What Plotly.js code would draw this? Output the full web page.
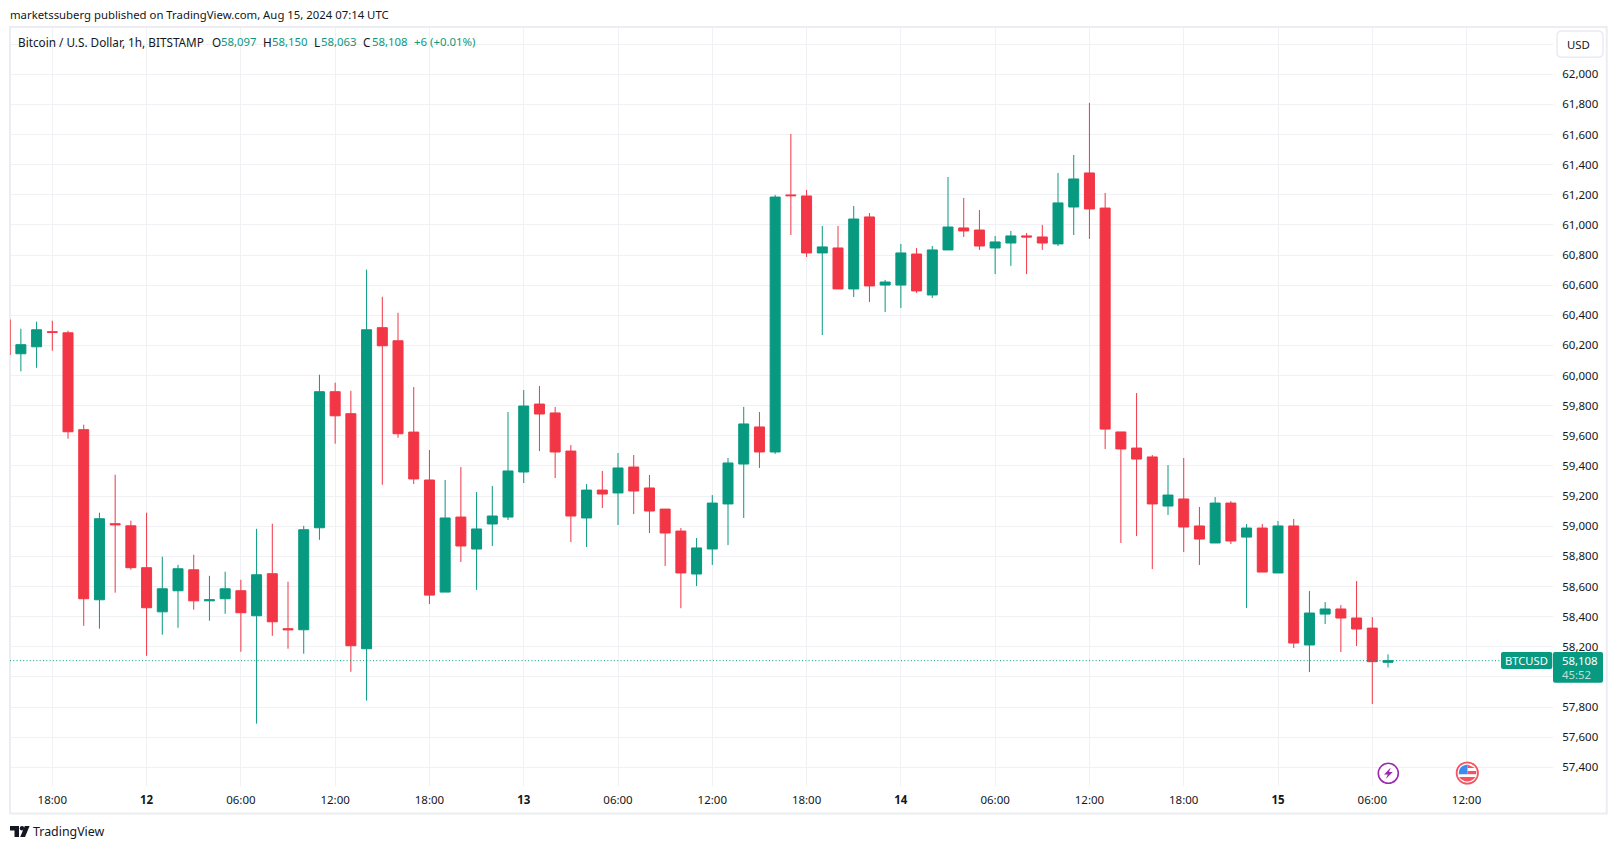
<!DOCTYPE html>
<html>
<head>
<meta charset="utf-8">
<title>BTCUSD 1h</title>
<script src="https://cdn.plot.ly/plotly-3.0.1.min.js"></script>
<style>html,body{margin:0;padding:0;background:#fff;overflow:hidden}#chart{width:1617px;height:849px}</style>
</head>
<body>
<div id="chart"></div>
<script>
const times = [
"2024-08-11 15:00","2024-08-11 16:00","2024-08-11 17:00","2024-08-11 18:00","2024-08-11 19:00","2024-08-11 20:00","2024-08-11 21:00","2024-08-11 22:00","2024-08-11 23:00",
"2024-08-12 00:00","2024-08-12 01:00","2024-08-12 02:00","2024-08-12 03:00","2024-08-12 04:00","2024-08-12 05:00","2024-08-12 06:00","2024-08-12 07:00","2024-08-12 08:00","2024-08-12 09:00","2024-08-12 10:00","2024-08-12 11:00","2024-08-12 12:00","2024-08-12 13:00","2024-08-12 14:00","2024-08-12 15:00","2024-08-12 16:00","2024-08-12 17:00","2024-08-12 18:00","2024-08-12 19:00","2024-08-12 20:00","2024-08-12 21:00","2024-08-12 22:00","2024-08-12 23:00",
"2024-08-13 00:00","2024-08-13 01:00","2024-08-13 02:00","2024-08-13 03:00","2024-08-13 04:00","2024-08-13 05:00","2024-08-13 06:00","2024-08-13 07:00","2024-08-13 08:00","2024-08-13 09:00","2024-08-13 10:00","2024-08-13 11:00","2024-08-13 12:00","2024-08-13 13:00","2024-08-13 14:00","2024-08-13 15:00","2024-08-13 16:00","2024-08-13 17:00","2024-08-13 18:00","2024-08-13 19:00","2024-08-13 20:00","2024-08-13 21:00","2024-08-13 22:00","2024-08-13 23:00",
"2024-08-14 00:00","2024-08-14 01:00","2024-08-14 02:00","2024-08-14 03:00","2024-08-14 04:00","2024-08-14 05:00","2024-08-14 06:00","2024-08-14 07:00","2024-08-14 08:00","2024-08-14 09:00","2024-08-14 10:00","2024-08-14 11:00","2024-08-14 12:00","2024-08-14 13:00","2024-08-14 14:00","2024-08-14 15:00","2024-08-14 16:00","2024-08-14 17:00","2024-08-14 18:00","2024-08-14 19:00","2024-08-14 20:00","2024-08-14 21:00","2024-08-14 22:00","2024-08-14 23:00",
"2024-08-15 00:00","2024-08-15 01:00","2024-08-15 02:00","2024-08-15 03:00","2024-08-15 04:00","2024-08-15 05:00","2024-08-15 06:00","2024-08-15 07:00"];

const opens = [60371,60145,60191,60291,60284,59641,58512,59017,59003,
58725,58432,58572,58711,58505,58519,58572,58406,58685,58320,58313,58990,59893,59747,58187,60318,60231,59625,59307,58563,59061,58849,59015,59061,
59360,59811,59752,59499,59055,59240,59221,59393,59254,59114,58968,58683,58849,59148,59413,59659,59493,61199,61192,60814,60847,60575,61053,60601,
60601,60807,60535,60834,60980,60966,60847,60880,60927,60920,60874,61119,61345,61112,59626,59519,59460,59134,59181,59002,58889,59154,58928,58988,
58690,59002,58212,58417,58451,58391,58324,58097];
const highs = [60371,60311,60358,60364,60298,59674,59090,59342,59037,
59090,58798,58744,58811,58671,58698,58645,58983,59017,58632,59003,60006,59953,59899,60703,60523,60417,59924,59506,59307,59393,59227,59267,59758,
59904,59931,59792,59539,59280,59367,59486,59473,59340,59114,58988,58922,59207,59453,59792,59758,61199,61604,61232,60993,60993,61126,61079,60635,
60874,60847,60860,61318,61179,61099,60927,60960,60947,61000,61345,61464,61810,61212,59626,59884,59473,59406,59453,59128,59194,59167,59015,59015,
59035,59048,58570,58497,58477,58636,58397,58150];
const lows = [60138,60028,60052,60165,59581,58339,58320,58559,58711,
58140,58280,58326,58446,58373,58419,58167,57690,58273,58187,58154,58910,59548,58034,57842,59275,59587,59280,58484,58563,58763,58577,58869,59041,
59287,59499,59320,58895,58862,59121,59008,59081,58955,58736,58456,58603,58743,58875,59055,59387,59480,60933,60787,60269,60575,60522,60488,60422,
60449,60548,60515,60834,60920,60834,60674,60728,60674,60834,60860,60933,60907,59513,58889,58935,58716,59075,58829,58743,58889,58882,58457,58696,
58690,58192,58032,58351,58165,58205,57820,58063];
const closes = [60138,60205,60304,60287,59627,58519,59050,59010,58725,
58459,58585,58718,58505,58512,58585,58426,58678,58366,58313,58977,59893,59733,58207,60304,60198,59614,59314,58543,59055,58869,58982,59068,59367,
59798,59745,59493,59068,59240,59214,59387,59234,59101,58955,58690,58856,59154,59420,59679,59493,61185,61194,60814,60854,60575,61039,60595,60621,
60814,60562,60834,60986,60960,60860,60887,60927,60920,60880,61146,61305,61106,59645,59513,59446,59148,59207,58995,58915,59154,58902,58988,58696,
59002,58225,58424,58451,58391,58318,58101,58108];

const timeTickVals = ["2024-08-11 18:00","2024-08-12 00:00","2024-08-12 06:00","2024-08-12 12:00","2024-08-12 18:00","2024-08-13 00:00","2024-08-13 06:00","2024-08-13 12:00","2024-08-13 18:00","2024-08-14 00:00","2024-08-14 06:00","2024-08-14 12:00","2024-08-14 18:00","2024-08-15 00:00","2024-08-15 06:00","2024-08-15 12:00"];
const timeTickText = ["18:00","<b>12</b>","06:00","12:00","18:00","<b>13</b>","06:00","12:00","18:00","<b>14</b>","06:00","12:00","18:00","<b>15</b>","06:00","12:00"];
const priceTickVals = [57400,57600,57800,58000,58200,58400,58600,58800,59000,59200,59400,59600,59800,60000,60200,60400,60600,60800,61000,61200,61400,61600,61800,62000,62200];
const priceTickText = ["57,400","57,600","57,800","","58,200","58,400","58,600","58,800","59,000","59,200","59,400","59,600","59,800","60,000","60,200","60,400","60,600","60,800","61,000","61,200","61,400","61,600","61,800","62,000",""];
const lastPrice = 58108;

const GREEN = '#089981', RED = '#F23645', INK = '#131722', FONT = '"Noto Sans", sans-serif';
const W = 1617, H = 849, L = 10, R = 64, T = 28, B = 63;
const xp = x => (x - L) / (W - L - R);
const yp = y => 1 - (y - T) / (H - T - B);
function pth(...a){
  let s = '', isX = true;
  for (const v of a){
    if (typeof v === 'string'){ s += v; isX = true; }
    else { s += (isX ? xp(v) : yp(v)).toFixed(6) + ' '; isX = !isX; }
  }
  return s;
}
const paperShape = o => Object.assign({xref:'paper', yref:'paper', layer:'above', line:{width:0}}, o);
function roundRect(x0,y0,x1,y1,r){
  return pth('M',x0+r,y0,'L',x1-r,y0,'Q',x1,y0,x1,y0+r,'L',x1,y1-r,'Q',x1,y1,x1-r,y1,'L',x0+r,y1,'Q',x0,y1,x0,y1-r,'L',x0,y0+r,'Q',x0,y0,x0+r,y0,'Z');
}
const shapes = [
  paperShape({type:'rect', layer:'below', x0:xp(10), x1:xp(1606.7), y0:yp(27), y1:yp(813.5), line:{color:'#ecedf2', width:2}}),
  {type:'line', xref:'paper', x0:0, x1:xp(1501), yref:'y', y0:lastPrice, y1:lastPrice, layer:'above', line:{color:GREEN, width:1, dash:'1px,2.3px'}},
  paperShape({type:'path', path:roundRect(1557,31,1603,57.3,5), fillcolor:'#ffffff', line:{color:'#e9ebf1', width:1.5}}),
  paperShape({type:'path', path:roundRect(1501,652,1552.3,669,2), fillcolor:GREEN}),
  paperShape({type:'path', path:roundRect(1553,652,1603,682.7,2), fillcolor:GREEN}),
  paperShape({type:'circle', x0:xp(1378.3), x1:xp(1398.3), y0:yp(763.3), y1:yp(783.3), fillcolor:'#ffffff', line:{color:'#9c27b0', width:1.6}}),
  paperShape({type:'path', path:pth('M',1390.8,767.5,'L',1384,774.5,'L',1387.8,774.5,'L',1385.8,779,'L',1392.8,772,'L',1389,772,'Z'), fillcolor:'#9c27b0'}),
  paperShape({type:'circle', x0:xp(1456.6), x1:xp(1478), y0:yp(762.3), y1:yp(783.7), fillcolor:'#ffffff', line:{color:'#f7525f', width:1.7}}),
  paperShape({type:'path', path:pth('M',1467.5,764.5,'L',1475,768,'L',1467.5,768,'Z'), fillcolor:'#f7525f'}),
  paperShape({type:'path', path:pth('M',1467.5,771,'L',1476.2,771,'L',1476.2,774.2,'L',1467.5,774.2,'Z'), fillcolor:'#f7525f'}),
  paperShape({type:'path', path:pth('M',1459,777,'L',1475.6,777,'Q',1472,781.5,1467.3,781.5,'Q',1462.5,781.5,1459,777,'Z'), fillcolor:'#f7525f'}),
  paperShape({type:'path', path:pth('M',1467.5,764.6,'L',1467.5,774.2,'L',1458.6,774.2,'Q',1458.6,765.5,1467.5,764.6,'Z'), fillcolor:'#3d8bf0'}),
  paperShape({type:'path', path:pth('M',10,826,'L',19,826,'L',19,837,'L',14.5,837,'L',14.5,830.6,'L',10,830.6,'Z'), fillcolor:INK}),
  paperShape({type:'circle', x0:xp(19.8), x1:xp(24.2), y0:yp(826), y1:yp(830.4), fillcolor:INK}),
  paperShape({type:'path', path:pth('M',24.8,826,'L',29.6,826,'L',25,837,'L',20.2,837,'Z'), fillcolor:INK})
];
function note(text, x, y, color, size, anchor){
  return {text, x:xp(x - 1), y:yp(y), xref:'paper', yref:'paper', showarrow:false, xanchor:anchor||'left', yanchor:'middle', borderpad:0,
    font:{family:FONT, size:size||12, color:color||INK}};
}
const annotations = [
  note('marketssuberg published on TradingView.com, Aug 15, 2024 07:14 UTC', 10, 14.5, INK, 11.35),
  note('Bitcoin / U.S. Dollar, 1h, BITSTAMP', 18, 41.7, INK, 11.75),
  note('O', 212, 41.7, INK, 11.75), note('58,097', 221, 41.7, GREEN, 11.4),
  note('H', 263.3, 41.7, INK, 11.75), note('58,150', 271.7, 41.7, GREEN, 11.4),
  note('L', 314.3, 41.7, INK, 11.75), note('58,063', 320.7, 41.7, GREEN, 11.4),
  note('C', 363.3, 41.7, INK, 11.75), note('58,108', 371.7, 41.7, GREEN, 11.4),
  note('+6 (+0.01%)', 414, 41.7, GREEN, 11.4),
  note('USD', 1566.7, 44.3, INK, 11.4),
  note('BTCUSD', 1505, 660.5, '#ffffff', 11.2),
  note('58,108', 1562.5, 660, '#ffffff', 11.4),
  note('45:52', 1562.5, 674, 'rgba(255,255,255,0.72)', 11.4),
  note('TradingView', 33, 831.7, INK, 12.4)
];

const trace = {
  type:'candlestick', x:times, open:opens, high:highs, low:lows, close:closes,
  increasing:{line:{color:GREEN, width:1}, fillcolor:GREEN},
  decreasing:{line:{color:RED, width:1}, fillcolor:RED},
  hoverinfo:'skip', showlegend:false
};
const layout = {
  width:W, height:H, autosize:false,
  margin:{l:L, r:R, t:T, b:B, pad:0},
  paper_bgcolor:'#ffffff', plot_bgcolor:'rgba(0,0,0,0)',
  boxgap:0.09, showlegend:false, hovermode:false, dragmode:false,
  font:{family:FONT, size:12, color:INK},
  xaxis:{type:'date', range:['2024-08-11 15:18:29','2024-08-15 17:30:00'], rangeslider:{visible:false},
    tickmode:'array', tickvals:timeTickVals, ticktext:timeTickText, tickangle:0,
    ticks:'outside', ticklen:3.5, tickcolor:'rgba(0,0,0,0)', showgrid:true, gridcolor:'#f0f1f4', gridwidth:1,
    showline:false, zeroline:false, tickfont:{family:FONT, size:11.5, color:INK}},
  yaxis:{side:'right', range:[57276, 62307], tickmode:'array', tickvals:priceTickVals, ticktext:priceTickText,
    ticks:'outside', ticklen:6, tickcolor:'rgba(0,0,0,0)', showgrid:true, gridcolor:'#f0f1f4', gridwidth:1,
    showline:false, zeroline:false, ticklabelshift:1.5, tickfont:{family:FONT, size:11.5, color:INK}},
  shapes, annotations
};
Plotly.newPlot('chart', [trace], layout, {displayModeBar:false, staticPlot:true, responsive:false});
</script>
</body>
</html>
